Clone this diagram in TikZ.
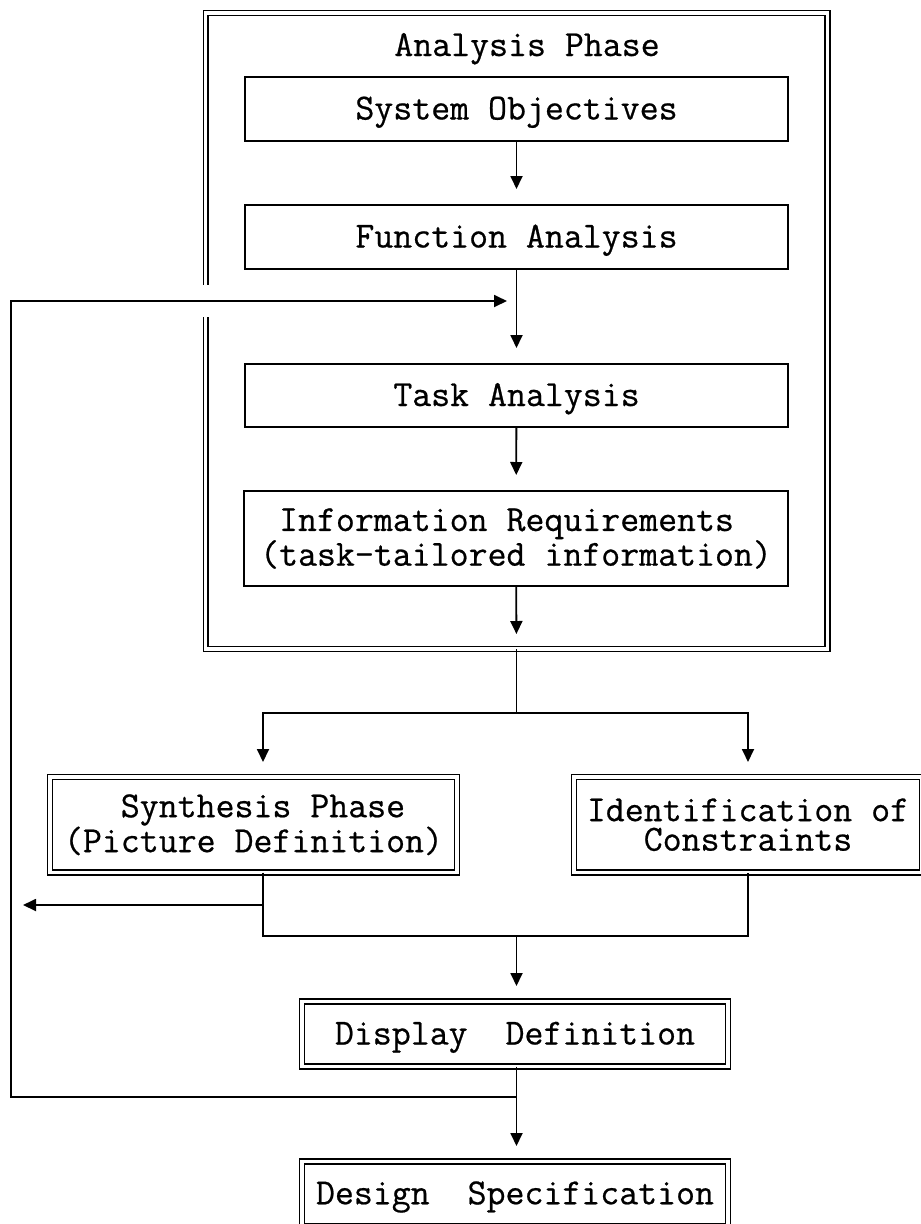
\documentclass[tikz,border=0pt]{standalone}
\usepackage{fontspec}
\setmonofont{Latin Modern Mono}[FakeBold=0.6]
\usetikzlibrary{arrows.meta,calc}
\begin{document}
\begin{tikzpicture}[x=1pt,y=-1pt,
  every node/.style={font=\ttfamily\fontsize{36.8}{29.5}\selectfont, inner sep=0pt, outer sep=0pt},
  sbox/.style={draw, line width=1.9pt, rectangle},
  dbox/.style={draw, line width=1.6pt, double, double distance=3.3pt, rectangle},
  one/.style={text height=27pt, text depth=6pt},
  conn/.style={line width=1.8pt},
  arr/.style={conn, -{Triangle[length=13pt,width=12pt]}},
]
\useasboundingbox (0,0) rectangle (921,1224);

% analysis phase frame
\node[dbox, minimum width=621.5pt, minimum height=636pt] (ana) at (516.5,331) {};
\node[anchor=base] (anatitle) at (527,56) {Analysis Phase};

% inner boxes
\node[sbox, one, minimum width=543pt, minimum height=64pt] (sys) at (516.5,109) {System Objectives};
\node[sbox, one, minimum width=543pt, minimum height=64pt] (fun) at (516.5,237) {Function Analysis};
\node[sbox, one, minimum width=543pt, minimum height=63pt] (task) at (516.5,395.5) {Task Analysis};
\node[sbox, align=left, minimum width=544pt, minimum height=95pt] (info) at (516,538.5)
  {\phantom{x}Information Requirements\\(task-tailored information)};

% lower boxes
\node[dbox, align=left, minimum width=407pt, minimum height=95.5pt] (synth) at (253.5,824.75)
  {\phantom{xxx}Synthesis Phase\\(Picture Definition)};
\node[dbox, align=center, minimum width=348pt, minimum height=95.5pt] (ident) at (748,824.75)
  {Identification of\\Constraints};
\node[dbox, one, minimum width=426pt, minimum height=65pt] (disp) at (515,1034) {Display~~Definition};
\node[dbox, one, minimum width=426pt, minimum height=64.5pt] (design) at (515,1193.75) {Design~~Specification};

% coordinates
\coordinate (split) at (516.5,713);
\coordinate (join) at (516.5,936);
\coordinate (lbranch) at (263,905);
\coordinate (leftend) at (23,905);
\coordinate (fbsplit) at (516.5,1097);
\coordinate (fbcorner) at (11,301);
\coordinate (fbend) at (507,301);

% gap in the frame where the feedback line enters
\fill[white] (198,285) rectangle (214,317);

% connectors inside analysis
\draw[arr, shorten >=16pt] (sys) -- (fun);
\draw[arr, shorten >=16pt] (fun) -- (task);
\draw[arr, shorten >=16pt] (task) -- (info);
\draw[arr, shorten >=15pt] (info) -- (ana.south);

% split to synthesis / constraints
\draw[conn] (ana.south) -- (split);
\draw[arr, shorten >=15pt] (split) -| ([xshift=9.5pt]synth.north);
\draw[arr, shorten >=15pt] (split) -| (ident.north);

% join
\draw[conn] ([xshift=9.5pt]synth.south) |- (join) -| (ident.south);
\draw[arr] (lbranch) -- (leftend);
\draw[arr, shorten >=15.5pt] (join) -- (join |- disp.north);

% feedback and final
\draw[conn] (fbsplit |- disp.south) -- (fbsplit);
\draw[arr] (fbsplit) -| (fbcorner) -- (fbend);
\draw[arr, shorten >=15.5pt] (fbsplit) -- (fbsplit |- design.north);
\end{tikzpicture}
\end{document}
